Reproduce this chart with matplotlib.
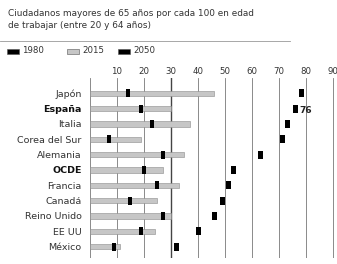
import matplotlib.pyplot as plt
import numpy as np

paises = ['Japón', 'España', 'Italia', 'Corea del Sur', 'Alemania', 'OCDE',
          'Francia', 'Canadá', 'Reino Unido', 'EE UU', 'México']
v1980 = [14, 19, 23, 7, 27, 20, 25, 15, 27, 19, 9]
v2015 = [46, 30, 37, 19, 35, 27, 33, 25, 30, 24, 11]
v2050 = [78, 76, 73, 71, 63, 53, 51, 49, 46, 40, 32]
ticks = [10, 20, 30, 40, 50, 60, 70, 80, 90]
negrita = ['España', 'OCDE']

plt.rcParams['font.family'] = 'DejaVu Sans'
fig = plt.figure(figsize=(3.37, 2.64), dpi=100)
ax = fig.add_axes([90/337, 6/264, 247/337, 180/264])

y = np.arange(len(paises))
ax.barh(y, v2015, height=0.34, color='#c6c6c6', edgecolor='#8a8a8a', linewidth=0.4, zorder=3)

rect = [(-0.3, -0.5), (0.3, -0.5), (0.3, 0.5), (-0.3, 0.5)]
ax.scatter(v1980, y, marker=rect, s=30, color='black', zorder=4, linewidths=0)
ax.scatter(v2050, y, marker=rect, s=36, color='black', zorder=4, linewidths=0)

# etiqueta España 2050
ax.text(v2050[1] + 1.6, 1.15, str(v2050[1]), fontsize=6.5, fontweight='bold',
        va='center', ha='left', color='#222')

ax.set_xlim(0, 91.5)
ax.set_ylim(10.74, -1.0)
for t in ticks:
    ax.axvline(t, color='#444' if t == 30 else '#777', lw=1.0 if t == 30 else 0.6, zorder=1)
ax.axvline(0, color='#777', lw=0.6, zorder=1)

ax.set_xticks(ticks)
ax.xaxis.tick_top()
ax.tick_params(axis='x', length=0, pad=1.5, labelsize=6.2, labelcolor='#333')
ax.set_yticks(y)
ax.set_yticklabels(paises)
ax.tick_params(axis='y', length=0, pad=6, labelsize=6.8, labelcolor='#333')
for lab in ax.get_yticklabels():
    if lab.get_text() in negrita:
        lab.set_fontweight('bold')
        lab.set_color('#111')
for s in ax.spines.values():
    s.set_visible(False)

# titulo
fig.text(8/337, 1 - 14/264, 'Ciudadanos mayores de 65 años por cada 100 en edad',
         fontsize=6.4, va='center', color='#333')
fig.text(8/337, 1 - 26/264, 'de trabajar (entre 20 y 64 años)',
         fontsize=6.4, va='center', color='#333')
fig.add_artist(plt.Line2D([0, 290/337], [1 - 41/264, 1 - 41/264], color='#999', lw=0.6))

# leyenda
ly = 1 - 51/264
for x0, col, lab in [(7, 'black', '1980'), (67, '#c6c6c6', '2015'), (118, 'black', '2050')]:
    fig.add_artist(plt.Rectangle((x0/337, ly - 2.5/264), 12/337, 5/264,
                                 facecolor=col, edgecolor='#555', lw=0.4))
    fig.text((x0 + 15)/337, ly, lab, fontsize=6.2, va='center', color='#333')

fig.savefig('out.png', dpi=100, facecolor='white')
